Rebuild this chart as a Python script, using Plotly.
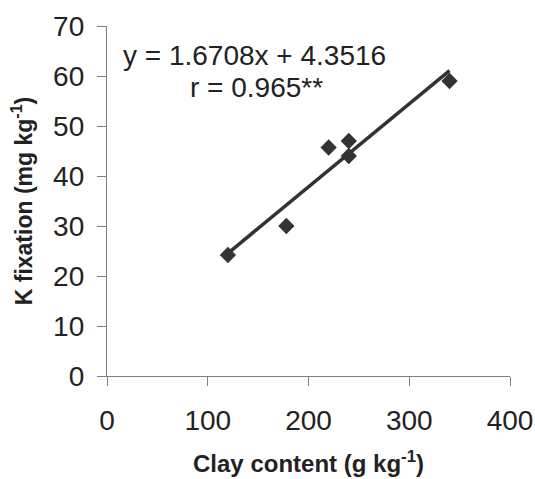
import numpy as np
import plotly.graph_objects as go

clay = [120, 178, 220, 240, 240, 340]
kfix = [24.2, 30.0, 45.7, 47.0, 44.0, 59.0]
x_ticks = [0, 100, 200, 300, 400]
y_ticks = [0, 10, 20, 30, 40, 50, 60, 70]

slope, intercept = np.polyfit(clay, kfix, 1)
x_fit = [min(clay), max(clay)]
y_fit = [slope * v + intercept for v in x_fit]

fig = go.Figure()
fig.add_trace(go.Scatter(x=x_fit, y=y_fit, mode="lines",
                         line=dict(color="#333333", width=3.5), showlegend=False))
fig.add_trace(go.Scatter(x=clay, y=kfix, mode="markers",
                         marker=dict(symbol="diamond", size=12.5, color="#333333"),
                         showlegend=False))

font_family = "Liberation Sans, Arial, sans-serif"
axis_common = dict(showgrid=False, zeroline=False, showline=True, linecolor="#808080",
                   linewidth=1.3, ticks="outside", ticklen=9, tickcolor="#808080",
                   tickwidth=1.3, automargin=False,
                   tickfont=dict(size=28, color="#222222", family=font_family))

fig.update_xaxes(range=[0, 400], tickvals=x_ticks, ticklabelstandoff=10, **axis_common,
                 title=dict(text="<b>Clay content (g kg<sup>-1</sup>)</b>",
                            font=dict(size=24, color="#222222", family=font_family),
                            standoff=20))
fig.update_yaxes(range=[0, 70], tickvals=y_ticks, ticklabelstandoff=7, **axis_common,
                 title=dict(text="<b>K fixation (mg kg<sup>-1</sup>)</b>",
                            font=dict(size=23, color="#222222", family=font_family),
                            standoff=14))

fig.add_annotation(x=(121 - 107) / 403, y=(376 - 55) / 350, xref="paper", yref="paper",
                   xanchor="left", yanchor="middle", text="y = 1.6708x + 4.3516",
                   showarrow=False, font=dict(size=28, color="#222222", family=font_family))
fig.add_annotation(x=(188 - 107) / 403, y=(376 - 87) / 350, xref="paper", yref="paper",
                   xanchor="left", yanchor="middle", text="r = 0.965**",
                   showarrow=False, font=dict(size=28, color="#222222", family=font_family))

fig.update_layout(width=535, height=479, margin=dict(l=107, r=25, t=26, b=103),
                  plot_bgcolor="white", paper_bgcolor="white")

fig.write_html("out.html")
